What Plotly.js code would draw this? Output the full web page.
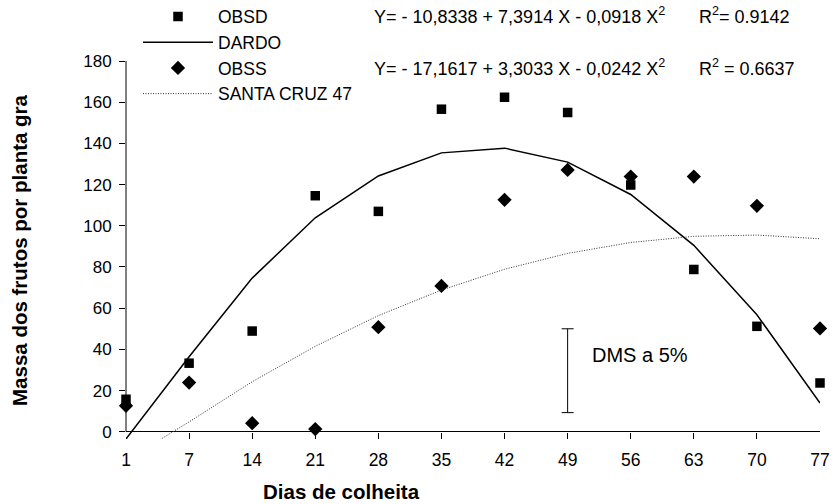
<!DOCTYPE html>
<html>
<head>
<meta charset="utf-8">
<script src="https://cdn.plot.ly/plotly-3.0.1.min.js"></script>
<style>html,body{margin:0;padding:0;background:#fff;}#chart{width:833px;height:504px;}</style>
</head>
<body>
<div id="chart"></div>
<script>
// Categories (days of harvest)
const dias = ['1','7','14','21','28','35','42','49','56','63','70','77'];
// Observed values, DARDO
const obsd = [15.8, 33.3, 48.9, 114.6, 107, 156.6, 162.4, 155, 119.8, 78.8, 51.2, 23.7];
// Fitted curve values, DARDO
const dardo = [-3.5, 36.4, 74.6, 103.9, 124.2, 135.4, 137.7, 130.9, 115.2, 90.5, 56.8, 14.0];
// Observed values, SANTA CRUZ 47
const obss = [12.6, 23.9, 4.2, 1.3, 50.8, 70.8, 112.6, 127.1, 123.9, 123.9, 109.7, 50.2];
// Fitted curve values, SANTA CRUZ 47
const santa = [-13.9, 4.8, 24.3, 41.5, 56.4, 68.8, 78.9, 86.6, 91.9, 94.9, 95.5, 93.7];
// DMS bar (least significant difference)
const dmsX = ['49'];
const dmsLow = 9.3, dmsHigh = 50;
const yTicks = [0, 20, 40, 60, 80, 100, 120, 140, 160, 180];

const FONT = 'Liberation Sans, Arial, sans-serif';
const W = 833, H = 504, ML = 126, MR = 13, MT = 61, MB = 65;
const PW = W - ML - MR, PH = H - MT - MB;
const px = x => (x - ML) / PW;
const py = y => (H - MB - y) / PH;

const traces = [
  {x: dias, y: obsd, name: 'OBSD', type: 'scatter', mode: 'markers', cliponaxis: false,
   marker: {symbol: 'square', size: 9.5, color: '#000'}},
  {x: dias, y: dardo, name: 'DARDO', type: 'scatter', mode: 'lines',
   line: {color: '#000', width: 1.5}},
  {x: dias, y: obss, name: 'OBSS', type: 'scatter', mode: 'markers', cliponaxis: false,
   marker: {symbol: 'diamond', size: 11, color: '#000'}},
  {x: dias, y: santa, name: 'SANTA CRUZ 47', type: 'scatter', mode: 'lines',
   line: {color: '#333', width: 1, dash: '1px,1.5px'}},
  {x: dmsX, y: [(dmsLow + dmsHigh) / 2], type: 'scatter', mode: 'markers', showlegend: false,
   marker: {size: 0.1, color: 'rgba(0,0,0,0)'}, cliponaxis: false,
   error_y: {type: 'data', symmetric: true, array: [(dmsHigh - dmsLow) / 2], color: '#000', thickness: 1, width: 6}}
];

const eqFont = {family: FONT, size: 18, color: '#000'};
const layout = {
  width: W, height: H,
  margin: {l: ML, r: MR, t: MT, b: MB, autoexpand: false},
  paper_bgcolor: '#fff', plot_bgcolor: '#fff',
  showlegend: true,
  legend: {x: px(138), y: py(-1.5), xanchor: 'left', yanchor: 'top', itemwidth: 70,
           font: {family: FONT, size: 17.5, color: '#000'}, bgcolor: 'rgba(0,0,0,0)', traceorder: 'normal'},
  xaxis: {type: 'category', range: [0, 11], showgrid: false, zeroline: false, showline: false,
          ticks: 'inside', ticklen: 6, tickcolor: '#000', tickwidth: 1, ticklabelstandoff: 8,
          tickfont: {family: FONT, size: 17.5, color: '#000'}, fixedrange: true},
  yaxis: {range: [-3.5, 180], tickvals: yTicks, showgrid: false, zeroline: true, zerolinecolor: '#000', zerolinewidth: 1,
          showline: false, ticks: 'outside', ticklen: 6, tickcolor: '#000', tickwidth: 1, ticklabelstandoff: 4,
          tickfont: {family: FONT, size: 17, color: '#000'}},
  shapes: [
    {type: 'line', xref: 'paper', yref: 'y', x0: 0, x1: 0, y0: 0, y1: 180, line: {color: '#000', width: 1}}
  ],
  annotations: [
    {xref: 'paper', yref: 'paper', x: px(341), y: py(491), xanchor: 'center', yanchor: 'middle', showarrow: false,
     text: '<b>Dias de colheita</b>', font: {family: FONT, size: 20.5, color: '#000'}},
    {xref: 'paper', yref: 'paper', x: px(19), y: py(250), xanchor: 'center', yanchor: 'middle', showarrow: false, textangle: -90,
     text: '<b>Massa dos frutos por planta gra</b>', font: {family: FONT, size: 20.5, color: '#000'}},
    {xref: 'paper', yref: 'paper', x: px(372), y: py(16), xanchor: 'left', yanchor: 'middle', showarrow: false,
     text: 'Y= - 10,8338 + 7,3914 X - 0,0918 X<sup>2</sup>', font: eqFont},
    {xref: 'paper', yref: 'paper', x: px(697), y: py(16), xanchor: 'left', yanchor: 'middle', showarrow: false,
     text: 'R<sup>2</sup>= 0.9142', font: eqFont},
    {xref: 'paper', yref: 'paper', x: px(372), y: py(68), xanchor: 'left', yanchor: 'middle', showarrow: false,
     text: 'Y= - 17,1617 + 3,3033 X - 0,0242 X<sup>2</sup>', font: eqFont},
    {xref: 'paper', yref: 'paper', x: px(697), y: py(68), xanchor: 'left', yanchor: 'middle', showarrow: false,
     text: 'R<sup>2</sup> = 0.6637', font: eqFont},
    {xref: 'x', yref: 'y', x: 7, y: 37.5, xanchor: 'left', yanchor: 'middle', xshift: 22, showarrow: false,
     text: 'DMS a 5%', font: {family: FONT, size: 20, color: '#000'}}
  ]
};

Plotly.newPlot('chart', traces, layout, {staticPlot: true, displayModeBar: false});
</script>
</body>
</html>
